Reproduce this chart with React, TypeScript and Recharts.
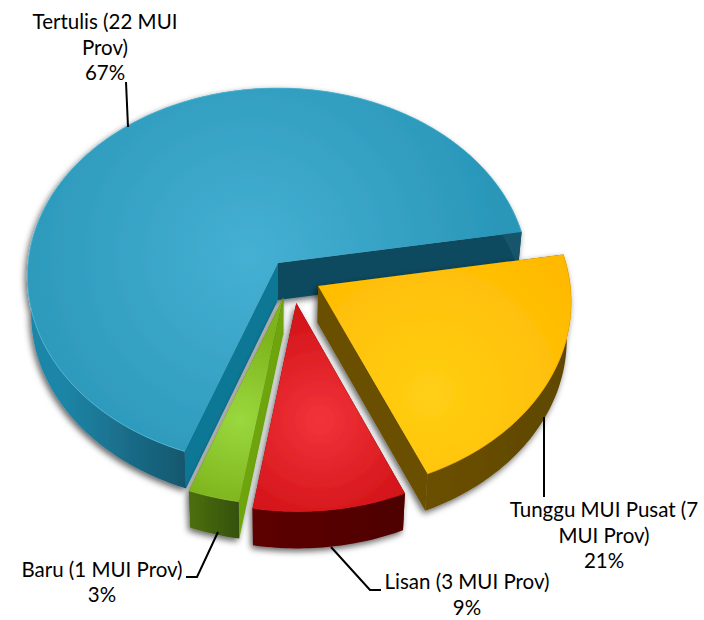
import React from "react";
import { Pie, PieChart } from "recharts";

const categories = ["Tertulis", "Baru", "Lisan", "Tunggu MUI Pusat"];
const provinces = [22, 1, 3, 7];
const percents = ["67%", "3%", "9%", "21%"];
const labelLines = [
  ["Tertulis (22 MUI", "Prov)"],
  ["Baru (1 MUI Prov)"],
  ["Lisan (3 MUI Prov)"],
  ["Tunggu MUI Pusat (7", "MUI Prov)"],
];

const tableData = categories.map((name, i) => ({ name, value: provinces[i] }));

// how far each slice is pulled out, in disc units
const explodeU = [0, 0.021, 0.072, 0.159];
const explodeV = [0, -0.18, -0.21, -0.1215];

const PERSPECTIVE = 0.0716;
const TILT = 0.75;
const DEPTH = 37;
const BOTTOM_SCALE = 0.985;

type SliceStyle = {
  inner: string;
  outer: string;
  rim: string;
  center: [number, number];
  radius: number;
  startWall: string;
  endWall: string;
  side: [string, string];
  sideX: [number, number];
};

const sliceStyles: SliceStyle[] = [
  {
    inner: "#45b0d3",
    outer: "#2996b8",
    rim: "#5cc0dc",
    center: [250, 255],
    radius: 260,
    startWall: "#0a4a5e",
    endWall: "#0f7896",
    side: ["#1f86a8", "#14556c"],
    sideX: [60, 190],
  },
  {
    inner: "#9ad83e",
    outer: "#7db31c",
    rim: "#8fc42c",
    center: [240, 420],
    radius: 90,
    startWall: "#3f5f0c",
    endWall: "#6ea50c",
    side: ["#4c6f10", "#334f08"],
    sideX: [190, 243],
  },
  {
    inner: "#f2343a",
    outer: "#cf1015",
    rim: "#d8161b",
    center: [320, 420],
    radius: 120,
    startWall: "#560005",
    endWall: "#560005",
    side: ["#5c0006", "#4e0004"],
    sideX: [253, 405],
  },
  {
    inner: "#ffcf14",
    outer: "#ffb800",
    rim: "#f0ad00",
    center: [430, 395],
    radius: 190,
    startWall: "#6b5000",
    endWall: "#6b5000",
    side: ["#6b5000", "#5f4700"],
    sideX: [427, 565],
  },
];

const leaderLines = [
  "126,82 128,127",
  "186,577 197,577 218,532",
  "331,547 370,590 381,590",
  "544,417 544,497",
];

type LabelPos = { x: number; y: number; lineGap: number; percentX: number; percentY: number };
const labelPositions: LabelPos[] = [
  { x: 105, y: 29, lineGap: 26, percentX: 105, percentY: 80 },
  { x: 102, y: 577, lineGap: 26, percentX: 102, percentY: 602 },
  { x: 467, y: 589, lineGap: 26, percentX: 467, percentY: 615 },
  { x: 604, y: 517, lineGap: 26, percentX: 604, percentY: 568 },
];

const toPath = (pts: number[][], close = true) =>
  pts.map((p, i) => `${i ? "L" : "M"}${p[0].toFixed(2)} ${p[1].toFixed(2)}`).join(" ") + (close ? " Z" : "");

const Slice3D = (props: any) => {
  const { cx, cy, outerRadius, startAngle, endAngle } = props;
  const name = props.name ?? props.payload?.name;
  const idx = categories.indexOf(name);
  const style = sliceStyles[idx];

  const project = (u: number, v: number) => {
    const uu = u + explodeU[idx];
    const vv = v + explodeV[idx];
    const w = 1 + PERSPECTIVE * vv;
    return [cx + (outerRadius * uu) / w, cy - (outerRadius * TILT * vv) / w];
  };
  const drop = (p: number[]) => [cx + (p[0] - cx) * BOTTOM_SCALE, p[1] + DEPTH];

  const lo = Math.min(startAngle, endAngle);
  const hi = Math.max(startAngle, endAngle);
  const arc: number[][] = [];
  const steps = Math.ceil(hi - lo);
  for (let i = 0; i <= steps; i++) {
    const a = ((lo + ((hi - lo) * i) / steps) * Math.PI) / 180;
    arc.push(project(Math.cos(a), Math.sin(a)));
  }
  const apex = project(0, 0);
  const first = arc[0];
  const last = arc[arc.length - 1];

  const topId = `top-${idx}`;
  const sideId = `side-${idx}`;

  return (
    <g filter="url(#sliceShadow)">
      <defs>
        <filter id="sliceShadow" x="-20%" y="-20%" width="140%" height="140%">
          <feDropShadow dx="-2" dy="3" stdDeviation="3" floodColor="#000" floodOpacity="0.6" />
        </filter>
        <radialGradient
          id={topId}
          gradientUnits="userSpaceOnUse"
          cx={style.center[0]}
          cy={style.center[1]}
          r={style.radius}
        >
          <stop offset="0%" stopColor={style.inner} />
          <stop offset="100%" stopColor={style.outer} />
        </radialGradient>
        <linearGradient
          id={sideId}
          gradientUnits="userSpaceOnUse"
          x1={style.sideX[0]}
          y1="0"
          x2={style.sideX[1]}
          y2="0"
        >
          <stop offset="0%" stopColor={style.side[0]} />
          <stop offset="100%" stopColor={style.side[1]} />
        </linearGradient>
      </defs>
      <path d={toPath([apex, first, drop(first), drop(apex)])} fill={style.startWall} />
      <path d={toPath([apex, last, drop(last), drop(apex)])} fill={style.endWall} />
      <path d={toPath([...arc, ...arc.map(drop).reverse()])} fill={`url(#${sideId})`} />
      <path d={toPath([apex, ...arc])} fill={`url(#${topId})`} />
      <path d={toPath(arc, false)} fill="none" stroke={style.rim} strokeWidth={1} strokeOpacity={0.7} />
    </g>
  );
};

const renderLabel = (props: any) => {
  const i = props.index;
  const pos = labelPositions[i];
  const textStyle = { fontFamily: "Lato", fontSize: 20.5, fill: "#000" };
  return (
    <g key={categories[i]}>
      <polyline points={leaderLines[i]} fill="none" stroke="#000" strokeWidth={2} />
      {labelLines[i].map((line, n) => (
        <text key={line} x={pos.x} y={pos.y + n * pos.lineGap} textAnchor="middle" {...textStyle}>
          {line}
        </text>
      ))}
      <text x={pos.percentX} y={pos.percentY} textAnchor="middle" {...textStyle}>
        {percents[i]}
      </text>
    </g>
  );
};

export default function App() {
  return (
    <div style={{ position: "absolute", left: 0, top: 0, width: 704, height: 620, background: "#fff" }}>
      <PieChart width={704} height={620} margin={{ top: 0, right: 0, bottom: 0, left: 0 }}>
        <Pie
          data={tableData}
          dataKey="value"
          nameKey="name"
          cx={278}
          cy={263}
          innerRadius={0}
          outerRadius={250}
          startAngle={9.6}
          endAngle={369.6}
          stroke="none"
          shape={Slice3D}
          label={renderLabel}
          labelLine={false}
          isAnimationActive={false}
        />
      </PieChart>
    </div>
  );
}
